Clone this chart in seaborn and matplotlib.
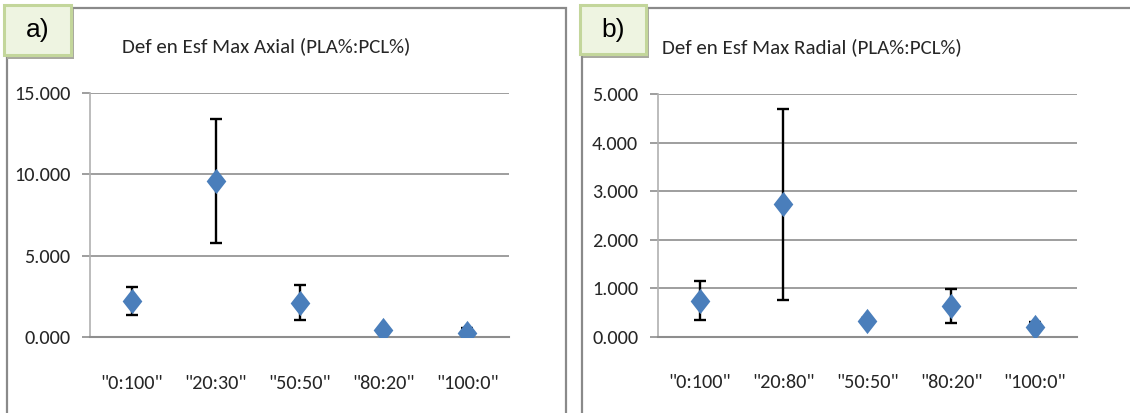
import matplotlib
matplotlib.use("Agg")
import matplotlib.pyplot as plt
from matplotlib import font_manager as fm
from matplotlib.patches import Rectangle
import numpy as np
import pandas as pd
import seaborn as sns

# Blend ratios (PLA%:PCL%)
cats_axial = ['"0:100"', '"20:30"', '"50:50"', '"80:20"', '"100:0"']
cats_radial = ['"0:100"', '"20:80"', '"50:50"', '"80:20"', '"100:0"']

# Axial deformation at max stress: means and asymmetric error bar limits
axial_mean = [2.23, 9.59, 2.12, 0.45, 0.28]
axial_err_low = [0.88, 3.79, 1.06, 0.12, 0.18]
axial_err_high = [0.84, 3.82, 1.07, 0.12, 0.29]

# Radial deformation at max stress
radial_mean = [0.74, 2.73, 0.33, 0.63, 0.19]
radial_err_low = [0.40, 1.97, 0.05, 0.34, 0.06]
radial_err_high = [0.41, 1.97, 0.05, 0.36, 0.11]

axial_ticks = [0, 5, 10, 15]
radial_ticks = [0, 1, 2, 3, 4, 5]

sns.set_theme(style="white")

# Prefer a narrow sans face when one is installed, otherwise Lato
installed = {f.name for f in fm.fontManager.ttflist}
narrow = None
for cand in ["Liberation Sans Narrow", "Carlito", "Roboto Condensed",
             "Open Sans Condensed", "Noto Sans Condensed"]:
    if cand in installed:
        narrow = cand
        break
BASE = narrow or "Lato"
SCALE = 1.08 if narrow else 1.0
plt.rcParams["font.family"] = [BASE, "DejaVu Sans"]

W, H = 1130, 413
fig = plt.figure(figsize=(W / 100, H / 100), dpi=100)
fig.patch.set_facecolor("white")

GRID = "#8e8e8e"
MARK = "#4a7ebb"
TXT = "#262626"
TICK_FS = 13.5 * SCALE
TITLE_FS = 14.0 * SCALE

# Slightly tall diamond marker
DIAMOND = [(-0.78, 0.0), (0.0, 1.0), (0.78, 0.0), (0.0, -1.0), (-0.78, 0.0)]


def px_axes(l, t, r, b):
    return fig.add_axes([l / W, 1 - b / H, (r - l) / W, (b - t) / H])


def draw_panel(ax, cats, mean, lo, hi, ticks):
    df = pd.DataFrame({"cat": cats, "val": mean})
    x = np.arange(len(cats))
    ax.errorbar(x, mean, yerr=[lo, hi], fmt="none", ecolor="black",
                elinewidth=1.7, capsize=4, capthick=1.7, zorder=3)
    sns.scatterplot(data=df, x=x, y="val", marker=DIAMOND, s=330, color=MARK,
                    edgecolor=MARK, linewidth=0, zorder=4, ax=ax, legend=False)
    ax.set_xlim(-0.5, len(cats) - 0.5)
    ax.set_ylim(ticks[0], ticks[-1])
    ax.set_yticks(ticks)
    ax.set_yticklabels([f"{t:.3f}" for t in ticks], fontsize=TICK_FS, color=TXT)
    ax.set_xticks(x)
    ax.set_xticklabels(cats, fontsize=TICK_FS, color=TXT)
    ax.set_xticks(np.arange(-0.5, len(cats)), minor=True)
    ax.tick_params(axis="x", which="major", length=0, pad=27)
    ax.tick_params(axis="x", which="minor", length=8, width=1.2, color=GRID,
                   direction="out")
    ax.tick_params(axis="y", length=6, width=1.2, color=GRID, pad=8,
                   direction="out", left=True)
    ax.yaxis.grid(True, color=GRID, linewidth=1.2)
    ax.set_axisbelow(True)
    for side in ["top", "right"]:
        ax.spines[side].set_visible(False)
    ax.spines["left"].set_color("#b0b0b0")
    ax.spines["left"].set_linewidth(1.2)
    ax.spines["bottom"].set_color(GRID)
    ax.spines["bottom"].set_linewidth(1.5)
    ax.set_xlabel("")
    ax.set_ylabel("")


# Panel frames
for (l, r) in [(7, 566), (582, 1135)]:
    fig.add_artist(Rectangle((l / W, -0.05), (r - l) / W, 1.05 - 8 / H,
                             transform=fig.transFigure, fill=False,
                             edgecolor="#8a8a8a", linewidth=1.6, zorder=0))

ax_a = px_axes(90, 92.7, 509, 337.3)
draw_panel(ax_a, cats_axial, axial_mean, axial_err_low, axial_err_high, axial_ticks)
ax_b = px_axes(657.7, 94.3, 1076.7, 336.7)
draw_panel(ax_b, cats_radial, radial_mean, radial_err_low, radial_err_high, radial_ticks)

# Chart titles
fig.text(266 / W, 1 - 46 / H, "Def en Esf Max Axial (PLA%:PCL%)",
         ha="center", va="center", fontsize=TITLE_FS, color=TXT)
fig.text(812 / W, 1 - 47 / H, "Def en Esf Max Radial (PLA%:PCL%)",
         ha="center", va="center", fontsize=TITLE_FS, color=TXT)

# Panel letter badges
for (l, t, r, b, lab) in [(4, 5, 71, 55, "a)"), (15 + 565, 5, 81 + 565, 54, "b)")]:
    fig.add_artist(Rectangle(((l + 3) / W, 1 - (b + 4) / H), (r - l) / W, (b - t) / H,
                             transform=fig.transFigure, facecolor="#a9a9a0",
                             edgecolor="none", zorder=5))
    fig.add_artist(Rectangle((l / W, 1 - b / H), (r - l) / W, (b - t) / H,
                             transform=fig.transFigure, facecolor="#eef4e1",
                             edgecolor="#c3d69b", linewidth=2.2, zorder=6))
    fig.text((l + r) / 2 / W, 1 - (t + b) / 2 / H, lab, ha="center", va="center",
             fontsize=19, color="black", zorder=7, family="Liberation Sans")

fig.savefig("out.png", dpi=100, facecolor="white")
